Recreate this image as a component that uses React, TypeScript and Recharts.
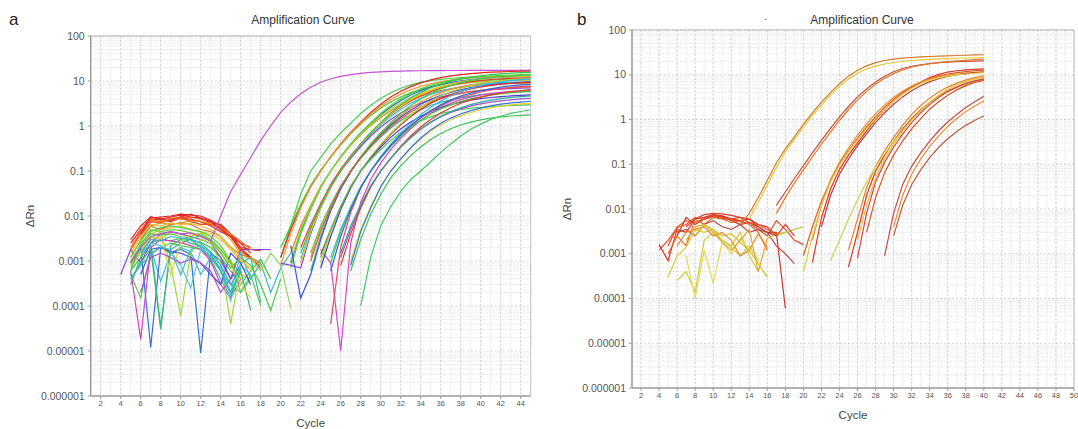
import React from 'react';
import { LineChart, Line, XAxis, YAxis, CartesianGrid, ReferenceLine } from 'recharts';

// ---------- axes ----------
const Y_TICKS = [0.000001, 0.00001, 0.0001, 0.001, 0.01, 0.1, 1, 10, 100];
const Y_TICK_LABELS = ['0.000001', '0.00001', '0.0001', '0.001', '0.01', '0.1', '1', '10', '100'];
const A_X_TICKS = [2, 4, 6, 8, 10, 12, 14, 16, 18, 20, 22, 24, 26, 28, 30, 32, 34, 36, 38, 40, 42, 44];
const B_X_TICKS = [2, 4, 6, 8, 10, 12, 14, 16, 18, 20, 22, 24, 26, 28, 30, 32, 34, 36, 38, 40, 42, 44, 46, 48, 50];
const A_MAX_CYCLE = 45;
const B_MAX_CYCLE = 50;

// ---------- panel a : amplification segments ----------
const A_AMP_START = [5, 20, 20, 20, 20, 21, 21, 21, 21, 22, 22, 20, 22, 22, 23, 23, 21, 23, 23, 24, 24, 24, 24, 24, 25, 25, 25, 25, 26, 26, 26, 27, 27, 27, 28];
const A_AMP_VALUES: number[][] = [
  [0.0009, 0.002, 0.0035, 0.004, 0.0045, 0.004, 0.0042, 0.0035, 0.0028, 0.01, 0.035, 0.085, 0.2, 0.48, 1.0, 2.0, 3.4, 5.2, 7.3, 9.4, 11.2, 12.7, 13.9, 14.8, 15.5, 16.0, 16.4, 16.6, 16.8, 16.9, 17.0, 17.0, 17.1, 17.1, 17.2, 17.2, 17.2, 17.3, 17.3, 17.3, 17.4],
  [0.0012, 0.006, 0.03, 0.1, 0.2, 0.4, 0.7, 1.15, 1.9, 2.9, 4.1, 5.5, 6.9, 8.2, 9.3, 10.2, 10.9, 11.5, 11.9, 12.2, 12.4, 12.6, 12.7, 12.8, 12.9, 12.9],
  [0.0012, 0.005, 0.016, 0.045, 0.1, 0.21, 0.4, 0.73, 1.22, 2.0, 3.05, 4.4, 5.9, 7.5, 9.1, 10.6, 11.9, 13.0, 13.9, 14.6, 15.2, 15.7, 16.0, 16.3, 16.5, 16.6],
  [0.002, 0.006, 0.018, 0.048, 0.105, 0.2, 0.38, 0.67, 1.1, 1.72, 2.5, 3.4, 4.4, 5.5, 6.5, 7.4, 8.2, 8.9, 9.5, 9.9, 10.3, 10.6, 10.8, 10.9, 11.0, 11.1],
  [0.0008, 0.004, 0.015, 0.044, 0.1, 0.21, 0.39, 0.7, 1.15, 1.85, 2.75, 3.85, 5.1, 6.4, 7.6, 8.7, 9.7, 10.5, 11.2, 11.7, 12.1, 12.4, 12.6, 12.8, 12.9, 13.0],
  [0.0009, 0.0045, 0.015, 0.044, 0.1, 0.21, 0.39, 0.69, 1.13, 1.8, 2.65, 3.7, 4.9, 6.1, 7.3, 8.4, 9.3, 10.1, 10.8, 11.3, 11.7, 12.0, 12.2, 12.4, 12.5],
  [0.0015, 0.006, 0.017, 0.046, 0.1, 0.2, 0.37, 0.64, 1.03, 1.55, 2.2, 2.95, 3.75, 4.6, 5.4, 6.1, 6.7, 7.3, 7.8, 8.2, 8.5, 8.7, 8.9, 9.0, 9.1],
  [0.0007, 0.004, 0.014, 0.042, 0.1, 0.21, 0.4, 0.71, 1.18, 1.9, 2.85, 4.0, 5.3, 6.7, 8.0, 9.2, 10.3, 11.2, 11.9, 12.5, 12.9, 13.3, 13.6, 13.8, 14.0],
  [0.001, 0.005, 0.016, 0.045, 0.1, 0.2, 0.38, 0.66, 1.08, 1.68, 2.45, 3.3, 4.3, 5.3, 6.3, 7.2, 8.0, 8.7, 9.2, 9.6, 9.9, 10.1, 10.3, 10.4, 10.5],
  [0.0011, 0.005, 0.016, 0.045, 0.1, 0.2, 0.37, 0.65, 1.06, 1.62, 2.35, 3.2, 4.1, 5.0, 5.9, 6.7, 7.4, 8.0, 8.5, 8.9, 9.2, 9.4, 9.6, 9.7],
  [0.002, 0.0065, 0.019, 0.05, 0.11, 0.22, 0.4, 0.7, 1.15, 1.8, 2.65, 3.6, 4.7, 5.8, 6.9, 7.9, 8.8, 9.6, 10.2, 10.7, 11.1, 11.4, 11.6, 11.8],
  [0.0009, 0.0008, 0.0007, 0.004, 0.015, 0.043, 0.1, 0.19, 0.35, 0.6, 0.95, 1.4, 1.95, 2.55, 3.2, 3.8, 4.4, 4.9, 5.4, 5.8, 6.1, 6.4, 6.6, 6.8, 6.9, 7.0],
  [0.0009, 0.0045, 0.015, 0.044, 0.1, 0.21, 0.39, 0.7, 1.15, 1.85, 2.75, 3.85, 5.1, 6.4, 7.6, 8.7, 9.7, 10.5, 11.2, 11.7, 12.1, 12.4, 12.6, 12.8],
  [0.0015, 0.0055, 0.017, 0.046, 0.1, 0.21, 0.4, 0.72, 1.2, 1.95, 2.95, 4.2, 5.6, 7.1, 8.5, 9.9, 11.1, 12.2, 13.1, 13.8, 14.4, 14.9, 15.3, 15.6],
  [0.0012, 0.005, 0.016, 0.045, 0.1, 0.2, 0.38, 0.67, 1.1, 1.72, 2.5, 3.4, 4.4, 5.5, 6.5, 7.4, 8.2, 8.9, 9.5, 9.9, 10.3, 10.6, 10.8],
  [0.0006, 0.0035, 0.014, 0.042, 0.1, 0.19, 0.34, 0.57, 0.9, 1.32, 1.8, 2.3, 2.85, 3.35, 3.8, 4.2, 4.6, 4.9, 5.2, 5.4, 5.6, 5.7, 5.8],
  [0.0022, 0.00015, 0.0005, 0.003, 0.013, 0.04, 0.095, 0.2, 0.37, 0.64, 1.04, 1.58, 2.25, 3.05, 3.9, 4.8, 5.6, 6.4, 7.1, 7.7, 8.2, 8.6, 8.9, 9.2, 9.4],
  [0.0015, 0.006, 0.018, 0.047, 0.1, 0.21, 0.4, 0.71, 1.18, 1.9, 2.85, 4.0, 5.3, 6.7, 8.0, 9.2, 10.3, 11.2, 11.9, 12.5, 12.9, 13.3, 13.6],
  [0.001, 0.0045, 0.015, 0.044, 0.1, 0.2, 0.36, 0.61, 0.97, 1.45, 2.05, 2.7, 3.4, 4.1, 4.7, 5.3, 5.8, 6.2, 6.6, 6.9, 7.1, 7.3, 7.4],
  [0.0018, 0.0009, 0.00001, 0.0025, 0.02, 0.065, 0.15, 0.3, 0.53, 0.87, 1.32, 1.9, 2.55, 3.2, 3.85, 4.4, 4.9, 5.3, 5.6, 5.85, 6.0, 6.1],
  [0.0014, 0.005, 0.016, 0.045, 0.1, 0.2, 0.37, 0.65, 1.06, 1.62, 2.35, 3.2, 4.1, 5.0, 5.9, 6.7, 7.4, 8.0, 8.5, 8.9, 9.2, 9.4],
  [0.0009, 0.0045, 0.015, 0.044, 0.1, 0.21, 0.39, 0.69, 1.13, 1.78, 2.6, 3.6, 4.7, 5.8, 6.9, 7.9, 8.8, 9.6, 10.2, 10.7, 11.1, 11.4],
  [0.0007, 0.0035, 0.014, 0.042, 0.1, 0.19, 0.34, 0.56, 0.86, 1.22, 1.65, 2.1, 2.55, 3.0, 3.4, 3.75, 4.05, 4.3, 4.5, 4.65, 4.8, 4.9],
  [0.0012, 0.005, 0.016, 0.045, 0.1, 0.18, 0.3, 0.48, 0.72, 1.0, 1.3, 1.6, 1.9, 2.1, 2.3, 2.5, 2.6, 2.7, 2.8, 2.85, 2.9, 2.95],
  [0.00004, 0.002, 0.012, 0.042, 0.1, 0.2, 0.36, 0.62, 1.0, 1.5, 2.1, 2.8, 3.55, 4.3, 5.0, 5.7, 6.3, 6.8, 7.2, 7.5, 7.8],
  [0.0012, 0.005, 0.016, 0.045, 0.1, 0.21, 0.39, 0.69, 1.13, 1.78, 2.6, 3.6, 4.7, 5.8, 6.9, 7.9, 8.8, 9.6, 10.2, 10.7, 11.1],
  [0.0009, 0.0045, 0.015, 0.044, 0.1, 0.19, 0.35, 0.58, 0.92, 1.35, 1.85, 2.4, 2.95, 3.5, 4.0, 4.45, 4.85, 5.2, 5.5, 5.75, 5.95],
  [0.0006, 0.0035, 0.014, 0.042, 0.1, 0.2, 0.37, 0.64, 1.03, 1.55, 2.2, 2.95, 3.75, 4.6, 5.4, 6.1, 6.7, 7.3, 7.8, 8.2, 8.5],
  [0.0012, 0.005, 0.016, 0.045, 0.1, 0.19, 0.34, 0.55, 0.85, 1.2, 1.6, 2.0, 2.4, 2.8, 3.1, 3.4, 3.6, 3.8, 4.0, 4.1],
  [0.0008, 0.004, 0.015, 0.044, 0.1, 0.19, 0.35, 0.6, 0.95, 1.4, 1.95, 2.55, 3.2, 3.8, 4.4, 4.9, 5.4, 5.8, 6.1, 6.4],
  [0.0015, 0.006, 0.018, 0.047, 0.1, 0.19, 0.34, 0.56, 0.86, 1.22, 1.65, 2.1, 2.55, 3.0, 3.4, 3.75, 4.05, 4.3, 4.5, 4.65],
  [0.001, 0.005, 0.016, 0.045, 0.1, 0.18, 0.32, 0.52, 0.77, 1.05, 1.38, 1.7, 2.0, 2.3, 2.55, 2.75, 2.95, 3.1, 3.2],
  [0.0008, 0.0045, 0.015, 0.044, 0.1, 0.185, 0.33, 0.54, 0.82, 1.15, 1.5, 1.85, 2.2, 2.5, 2.8, 3.05, 3.25, 3.4, 3.55],
  [0.0006, 0.003, 0.011, 0.03, 0.07, 0.13, 0.22, 0.34, 0.5, 0.68, 0.87, 1.05, 1.22, 1.37, 1.5, 1.6, 1.67, 1.72, 1.76],
  [0.0001, 0.0012, 0.006, 0.016, 0.035, 0.065, 0.1, 0.16, 0.26, 0.4, 0.6, 0.85, 1.1, 1.4, 1.65, 1.9, 2.1, 2.3],
];
const A_AMP_COLORS = ['#c452d2', '#4ccc50', '#e4261c', '#3fc83a', '#f29a2e', '#2e6ad6', '#f07a1e', '#54d23e', '#9ad43c', '#2fc3da', '#e8402a', '#8a46d0', '#e8c41e', '#36c24a', '#f08a2a', '#2cb89a', '#3a56d2', '#42ca52', '#ea5a26', '#d048c4', '#de2c22', '#acd23c', '#4c3ec2', '#4cc85a', '#e04a6e', '#3cb6e2', '#4ac23e', '#3068d8', '#9a52ca', '#e23a2a', '#2ea6a0', '#e6d032', '#3a72d8', '#3cc452', '#44ca62'];

// ---------- panel a : baseline noise ----------
const A_BASE_START = [5, 5, 6, 5, 5, 5, 5, 5, 5, 5, 5, 4, 5, 5, 6, 5, 5, 6, 6, 5, 5, 5, 5, 6, 6, 6, 5, 17, 5, 6, 5];
const A_BASE_VALUES: number[][] = [
  [0.0025, 0.005, 0.009, 0.0095, 0.01, 0.011, 0.0105, 0.01, 0.008, 0.006, 0.004, 0.0025, 0.0015],
  [0.002, 0.0045, 0.0085, 0.008, 0.0088, 0.009, 0.0095, 0.0085, 0.0075, 0.0055, 0.0035, 0.0016, 0.0012, 0.0009],
  [0.0035, 0.0075, 0.009, 0.008, 0.0095, 0.011, 0.009, 0.007, 0.0065, 0.004, 0.002, 0.0018, 0.0017],
  [0.0012, 0.003, 0.006, 0.007, 0.0065, 0.007, 0.008, 0.0075, 0.0065, 0.005, 0.003, 0.0014, 0.0011, 0.0008],
  [0.0009, 0.002, 0.004, 0.005, 0.0055, 0.006, 0.005, 0.0045, 0.004, 0.003, 0.0018, 0.001, 0.0007],
  [0.0008, 0.0018, 0.0035, 0.003, 0.0045, 0.004, 0.0035, 0.0042, 0.003, 0.0018, 0.001, 0.0005, 0.0004, 0.0009],
  [0.0006, 0.0012, 0.0025, 0.003, 0.0028, 0.0032, 0.003, 0.0026, 0.002, 0.0012, 0.0006, 0.0003, 0.0006, 0.0011, 0.0004],
  [0.0005, 0.00015, 0.0015, 0.002, 0.0025, 0.0022, 0.002, 0.0018, 0.0012, 0.0006, 0.0003, 0.0002, 0.0005, 0.0001],
  [0.0007, 0.0016, 0.002, 0.00035, 0.0015, 0.002, 0.0016, 0.0005, 0.0012, 0.0007, 0.0002, 0.0006],
  [0.0009, 0.002, 0.000012, 0.002, 0.0015, 0.0018, 0.0014, 0.000009, 0.0015, 0.001, 0.0004, 0.0008],
  [0.0003, 0.0012, 0.0025, 0.000035, 0.0018, 0.0025, 0.003, 0.002, 0.0011, 0.0004, 0.00015, 0.0009, 0.0012, 0.00012],
  [0.0005, 0.0018, 0.0009, 0.0025, 0.004, 0.0045, 0.004, 0.0035, 0.003, 0.0025, 0.0012, 0.0004, 0.0018, 0.0018, 0.0018, 0.0018],
  [0.0006, 0.000018, 0.002, 0.003, 0.0028, 0.0026, 0.0022, 0.0018, 0.001, 0.0003, 0.00015, 0.0004],
  [0.003, 0.006, 0.0095, 0.0085, 0.0075, 0.009, 0.0085, 0.0075, 0.006, 0.0045, 0.0035, 0.0025, 0.002],
  [0.005, 0.008, 0.0075, 0.009, 0.0085, 0.008, 0.0075, 0.007, 0.0055, 0.004, 0.0028, 0.0018],
  [0.001, 0.0022, 0.0045, 0.0055, 0.006, 0.0055, 0.005, 0.0045, 0.0035, 0.0022, 0.001, 0.0002, 0.0004],
  [0.0009, 0.0016, 0.0032, 0.0045, 0.0008, 0.00006, 0.0015, 0.003, 0.0025, 0.0009, 0.00004, 0.0008],
  [0.0014, 0.0025, 0.0022, 0.0016, 0.0008, 0.00025, 0.0018, 0.0014, 0.0006, 0.00013, 0.0008, 0.0005],
  [0.0005, 0.0018, 0.002, 0.0016, 0.0015, 0.0012, 0.0009, 0.0005, 0.0003, 0.0015, 0.0009, 0.0003],
  [0.0004, 0.0009, 0.0019, 0.00003, 0.0022, 0.003, 0.0025, 0.0022, 0.0015, 0.0006, 0.00018, 0.0006, 0.00008],
  [0.0018, 0.004, 0.0075, 0.007, 0.0085, 0.0095, 0.0075, 0.0065, 0.0065, 0.0055, 0.0035, 0.002, 0.0012, 0.0007],
  [0.0007, 0.0015, 0.003, 0.0035, 0.0005, 0.0025, 0.004, 0.0035, 0.0028, 0.0016, 0.0008, 0.0003, 0.00015],
  [0.0006, 0.0025, 0.004, 0.0038, 0.004, 0.0035, 0.0032, 0.0036, 0.0028, 0.0015, 0.0007, 0.0012, 0.0008, 0.0003, 0.00008, 0.0004],
  [0.003, 0.006, 0.005, 0.0065, 0.007, 0.0065, 0.005, 0.0045, 0.0035, 0.002, 0.0014, 0.0012, 0.0006],
  [0.0002, 0.0012, 0.0015, 0.0012, 0.0009, 0.0011, 0.0009, 0.0006, 0.0002, 0.0004],
  [0.004, 0.0095, 0.0085, 0.0095, 0.0105, 0.0095, 0.009, 0.0075, 0.005, 0.0035, 0.0018, 0.0012],
  [0.0004, 0.0008, 0.0014, 0.002, 0.0018, 0.0005, 0.0018, 0.0022, 0.0012, 0.0006, 0.0002, 0.0015, 0.0004, 0.0009, 0.0002, 0.0007, 0.0015],
  [0.0012, 0.0006, 0.0015, 0.0008, 0.00009],
  [0.0012, 0.0028, 0.005, 0.0045, 0.005, 0.0048, 0.0042, 0.0038, 0.003, 0.0018, 0.0009, 0.0004],
  [0.0015, 0.003, 0.0028, 0.0035, 0.0032, 0.003, 0.0025, 0.0016, 0.0008, 0.0003, 0.0007],
  [0.0015, 0.0035, 0.0065, 0.006, 0.007, 0.0065, 0.0068, 0.006, 0.005, 0.0035, 0.002, 0.0011, 0.0006],
];
const A_BASE_COLORS = ['#e62020', '#f06a1a', '#d82828', '#f0a020', '#e0c828', '#b8d030', '#40c040', '#58c858', '#38c0d0', '#3070d0', '#30b8a0', '#9040c8', '#d040c0', '#e03030', '#f08028', '#50d050', '#a0d838', '#50c8e0', '#5050d0', '#38b878', '#e85020', '#e8d040', '#48c848', '#c88030', '#b050c0', '#e02828', '#40b8c8', '#90d860', '#6ccc3c', '#30a8d8', '#f0b830'];

// ---------- panel b : amplification segments ----------
const B_AMP_START = [13, 14, 17, 17, 21, 20, 21, 22, 20, 25, 25, 23, 26, 26, 27, 29, 30, 30];
const B_AMP_VALUES: number[][] = [
  [0.0045, 0.008, 0.018, 0.044, 0.107, 0.22, 0.41, 0.78, 1.4, 2.45, 4.0, 6.3, 9.3, 12.6, 15.8, 18.6, 20.8, 22.4, 23.5, 24.3, 25.0, 25.6, 26.1, 26.5, 26.9, 27.3, 27.7, 28.0],
  [0.006, 0.014, 0.034, 0.085, 0.19, 0.36, 0.68, 1.22, 2.1, 3.5, 5.5, 8.0, 10.8, 13.4, 15.6, 17.4, 18.8, 19.9, 20.8, 21.5, 22.1, 22.6, 23.0, 23.4, 23.7, 24.0, 24.2],
  [0.012, 0.024, 0.048, 0.093, 0.18, 0.34, 0.63, 1.15, 1.95, 3.2, 4.8, 6.9, 9.3, 11.7, 13.8, 15.5, 16.6, 17.8, 18.6, 19.1, 19.5, 20.0, 20.2, 20.4],
  [0.008, 0.018, 0.038, 0.075, 0.145, 0.28, 0.52, 0.95, 1.65, 2.75, 4.2, 6.1, 8.3, 10.6, 12.8, 14.7, 16.3, 17.6, 18.7, 19.6, 20.4, 21.1, 21.7, 22.2],
  [0.00063, 0.0063, 0.028, 0.076, 0.16, 0.3, 0.56, 1.0, 1.66, 2.6, 3.8, 5.2, 6.9, 8.7, 10.2, 11.5, 12.3, 12.9, 13.2, 13.5],
  [0.0009, 0.004, 0.015, 0.042, 0.1, 0.2, 0.38, 0.68, 1.15, 1.85, 2.8, 4.0, 5.4, 6.8, 8.2, 9.4, 10.4, 11.2, 11.8, 12.3, 12.7],
  [0.002, 0.012, 0.045, 0.11, 0.23, 0.45, 0.8, 1.35, 2.1, 3.1, 4.3, 5.6, 6.9, 8.0, 9.0, 9.8, 10.4, 10.9, 11.3, 11.6],
  [0.004, 0.02, 0.06, 0.13, 0.26, 0.48, 0.85, 1.4, 2.2, 3.2, 4.4, 5.7, 7.0, 8.2, 9.2, 10.0, 10.6, 11.1, 11.5],
  [0.0004, 0.0025, 0.012, 0.04, 0.095, 0.19, 0.35, 0.62, 1.05, 1.7, 2.6, 3.7, 5.0, 6.3, 7.5, 8.5, 9.3, 9.9, 10.4, 10.8, 11.1],
  [0.0005, 0.003, 0.02, 0.07, 0.16, 0.33, 0.62, 1.05, 1.65, 2.4, 3.3, 4.3, 5.3, 6.3, 7.2, 8.0],
  [0.0012, 0.006, 0.03, 0.09, 0.2, 0.4, 0.75, 1.3, 2.05, 3.0, 4.1, 5.3, 6.5, 7.6, 8.6, 9.4],
  [0.0007, 0.002, 0.006, 0.016, 0.04, 0.085, 0.17, 0.32, 0.58, 0.98, 1.55, 2.3, 3.2, 4.2, 5.2, 6.1, 6.9, 7.6],
  [0.0008, 0.008, 0.04, 0.11, 0.24, 0.47, 0.85, 1.4, 2.15, 3.1, 4.2, 5.3, 6.4, 7.3, 8.1],
  [0.002, 0.012, 0.05, 0.13, 0.28, 0.55, 0.98, 1.6, 2.45, 3.5, 4.7, 5.9, 7.0, 8.0, 8.8],
  [0.003, 0.018, 0.065, 0.16, 0.33, 0.62, 1.05, 1.7, 2.5, 3.5, 4.6, 5.7, 6.7, 7.5],
  [0.0009, 0.008, 0.035, 0.09, 0.18, 0.33, 0.56, 0.88, 1.3, 1.85, 2.5, 3.3],
  [0.004, 0.02, 0.06, 0.13, 0.25, 0.43, 0.7, 1.05, 1.5, 2.0, 2.6],
  [0.0025, 0.012, 0.035, 0.075, 0.14, 0.24, 0.37, 0.54, 0.74, 0.96, 1.2],
];
const B_AMP_COLORS = ['#d47a28', '#e2c83a', '#c8503a', '#e07828', '#d83828', '#e05a24', '#e88a2c', '#b83c3c', '#e0cc3c', '#d03828', '#e88028', '#c8d850', '#d04850', '#e8c030', '#e05020', '#c84848', '#e09038', '#c05a40'];

// ---------- panel b : baseline noise ----------
const B_BASE_START = [4, 5, 6, 5, 6, 5, 6, 7, 6, 7, 17, 7, 8, 4];
const B_BASE_VALUES: number[][] = [
  [0.0016, 0.0007, 0.0035, 0.003, 0.006, 0.0065, 0.0075, 0.007, 0.006, 0.0055, 0.006, 0.004, 0.003, 0.0025],
  [0.0015, 0.004, 0.0055, 0.005, 0.006, 0.0075, 0.0065, 0.006, 0.0065, 0.005, 0.0035, 0.0025, 0.0055, 0.0035, 0.002, 0.0016],
  [0.0025, 0.0065, 0.0045, 0.006, 0.007, 0.0068, 0.0055, 0.0045, 0.005, 0.004, 0.003, 0.003, 0.00006],
  [0.001, 0.0025, 0.0015, 0.006, 0.0045, 0.0065, 0.006, 0.005, 0.0055, 0.0045, 0.003, 0.0012],
  [0.003, 0.0035, 0.0025, 0.0045, 0.0055, 0.004, 0.0035, 0.0045, 0.003, 0.0035, 0.003, 0.0015, 0.001, 0.0006],
  [0.0003, 0.0009, 0.0014, 0.0035, 0.003, 0.0035, 0.002, 0.0015, 0.003, 0.0009, 0.0004],
  [0.00025, 0.0004, 0.00014, 0.002, 0.003, 0.002, 0.0014, 0.0009, 0.0015, 0.0007],
  [0.0009, 0.0001, 0.0012, 0.00022, 0.0018, 0.001, 0.0022, 0.0012],
  [0.0015, 0.003, 0.0035, 0.004, 0.0025, 0.003, 0.002, 0.0009, 0.0012, 0.0028, 0.0014],
  [0.002, 0.004, 0.0045, 0.003, 0.0018, 0.0012, 0.002, 0.0035, 0.0004, 0.0022, 0.0028, 0.003],
  [0.0025, 0.003, 0.0035, 0.004],
  [0.004, 0.006, 0.0075, 0.008, 0.0078, 0.0072, 0.0065, 0.006, 0.0045, 0.004, 0.0025, 0.0045, 0.0025],
  [0.0025, 0.0045, 0.0035, 0.0025, 0.0028, 0.0018, 0.0012, 0.0006, 0.0003],
  [0.0012, 0.002, 0.0038, 0.0045, 0.0065, 0.0058, 0.0068, 0.0062, 0.0058, 0.0052, 0.0048, 0.0045, 0.0035, 0.0028],
];
const B_BASE_COLORS = ['#d83020', '#e05020', '#c83a30', '#e06a28', '#b84848', '#e0c830', '#c8d040', '#e8d858', '#e88830', '#e0a830', '#b8cc48', '#d84030', '#d8c020', '#e85028'];

// ---------- helpers ----------
type Group = { prefix: string; starts: number[]; values: number[][]; colors: string[] };

function buildRows(maxCycle: number, groups: Group[]) {
  const rows: Record<string, number>[] = [];
  for (let c = 1; c <= maxCycle; c++) rows.push({ cycle: c });
  groups.forEach((g) =>
    g.values.forEach((vals, i) => {
      vals.forEach((v, j) => {
        const c = g.starts[i] + j;
        if (c >= 1 && c <= maxCycle) rows[c - 1][`${g.prefix}${i}`] = v;
      });
    })
  );
  return rows;
}

function buildSeries(groups: Group[]) {
  const out: { key: string; color: string }[] = [];
  groups.forEach((g) => g.values.forEach((_, i) => out.push({ key: `${g.prefix}${i}`, color: g.colors[i] })));
  return out;
}

const MINOR_Y: number[] = [];
for (let e = -6; e < 2; e++) for (let k = 2; k <= 9; k++) MINOR_Y.push(k * Math.pow(10, e));
const cyclesUpTo = (n: number) => Array.from({ length: n }, (_, i) => i + 1);

const FONT = 'Arial, "Liberation Sans", Helvetica, sans-serif';
const AXIS = '#9c9c9c';

const fmtY = (v: number) => {
  const i = Y_TICKS.indexOf(v);
  return i >= 0 ? Y_TICK_LABELS[i] : String(v);
};

type PanelProps = {
  left: number; width: number; height: number; yAxisWidth: number; top: number; right: number;
  xAxisHeight: number; xMax: number; xTicks: number[]; groups: Group[]; cycleOffset: number; yLabelOffset: number;
};

function Panel(p: PanelProps) {
  const rows = buildRows(p.xMax, p.groups);
  const series = buildSeries(p.groups);
  return (
    <div style={{ position: 'absolute', left: p.left, top: 0, width: p.width, height: p.height }}>
      <LineChart width={p.width} height={p.height} data={rows} margin={{ top: p.top, right: p.right, bottom: 0, left: 0 }}>
        <CartesianGrid horizontalValues={MINOR_Y} verticalValues={cyclesUpTo(Math.floor(p.xMax))} stroke="#e9e9e9" strokeDasharray="2 1" />
        <CartesianGrid horizontalValues={Y_TICKS} verticalValues={p.xTicks} stroke="#d4d4d4" strokeDasharray="2 2" />
        <XAxis
          type="number" dataKey="cycle" domain={[1, p.xMax]} ticks={p.xTicks} interval={0} allowDataOverflow
          height={p.xAxisHeight} tickSize={3} tickMargin={2}
          axisLine={{ stroke: AXIS, strokeWidth: 1.5 }} tickLine={{ stroke: AXIS }}
          tick={{ fontSize: 7.5, fill: '#555', fontFamily: FONT }}
          label={{ value: 'Cycle', position: 'insideBottom', offset: p.cycleOffset, fontSize: 11.5, fill: '#444', fontFamily: FONT }}
        />
        <YAxis
          type="number" scale="log" domain={[0.000001, 100]} ticks={Y_TICKS} interval={0} allowDataOverflow
          width={p.yAxisWidth} tickSize={3} tickMargin={3} tickFormatter={fmtY}
          axisLine={{ stroke: AXIS, strokeWidth: 1.5 }} tickLine={{ stroke: AXIS }}
          tick={{ fontSize: 10.5, fill: '#555', fontFamily: FONT }}
          label={{ value: 'ΔRn', angle: -90, position: 'insideLeft', offset: p.yLabelOffset, fontSize: 11.5, fill: '#444', fontFamily: FONT, style: { textAnchor: 'middle' } }}
        />
        <ReferenceLine y={100} stroke="#b4b4b4" strokeWidth={1} />
        <ReferenceLine x={p.xMax} stroke="#c4c4c4" strokeWidth={1} />
        {series.map((s) => (
          <Line key={s.key} type="linear" dataKey={s.key} stroke={s.color} strokeWidth={1.2} dot={false} activeDot={false} isAnimationActive={false} connectNulls={false} />
        ))}
      </LineChart>
    </div>
  );
}

const textBase: React.CSSProperties = { position: 'absolute', fontFamily: FONT, color: '#333', whiteSpace: 'nowrap' };

export default function App() {
  const aGroups: Group[] = [
    { prefix: 'ab', starts: A_BASE_START, values: A_BASE_VALUES, colors: A_BASE_COLORS },
    { prefix: 'aa', starts: A_AMP_START, values: A_AMP_VALUES, colors: A_AMP_COLORS },
  ];
  const bGroups: Group[] = [
    { prefix: 'bb', starts: B_BASE_START, values: B_BASE_VALUES, colors: B_BASE_COLORS },
    { prefix: 'ba', starts: B_AMP_START, values: B_AMP_VALUES, colors: B_AMP_COLORS },
  ];
  return (
    <div style={{ position: 'absolute', left: 0, top: 0, width: 1078, height: 429, background: '#fff', overflow: 'hidden' }}>
      <Panel left={0} width={545} height={429} yAxisWidth={90.7} top={36} right={14.3} xAxisHeight={33} xMax={A_MAX_CYCLE} xTicks={A_X_TICKS} groups={aGroups} cycleOffset={2} yLabelOffset={30} />
      <Panel left={540} width={538} height={429} yAxisWidth={92} top={30} right={4} xAxisHeight={41} xMax={B_MAX_CYCLE} xTicks={B_X_TICKS} groups={bGroups} cycleOffset={10} yLabelOffset={27} />
      <div style={{ ...textBase, left: 9, top: 10, fontSize: 17, lineHeight: '20px', color: '#222' }}>a</div>
      <div style={{ ...textBase, left: 577, top: 10, fontSize: 17, lineHeight: '20px', color: '#222' }}>b</div>
      <div style={{ ...textBase, left: 203, top: 12, width: 200, textAlign: 'center', fontSize: 12, lineHeight: '16px' }}>Amplification Curve</div>
      <div style={{ ...textBase, left: 762, top: 12, width: 200, textAlign: 'center', fontSize: 12, lineHeight: '16px' }}>Amplification Curve</div>
      <div style={{ ...textBase, left: 764, top: 13, fontSize: 9, lineHeight: '12px', color: '#666' }}>-</div>
    </div>
  );
}
